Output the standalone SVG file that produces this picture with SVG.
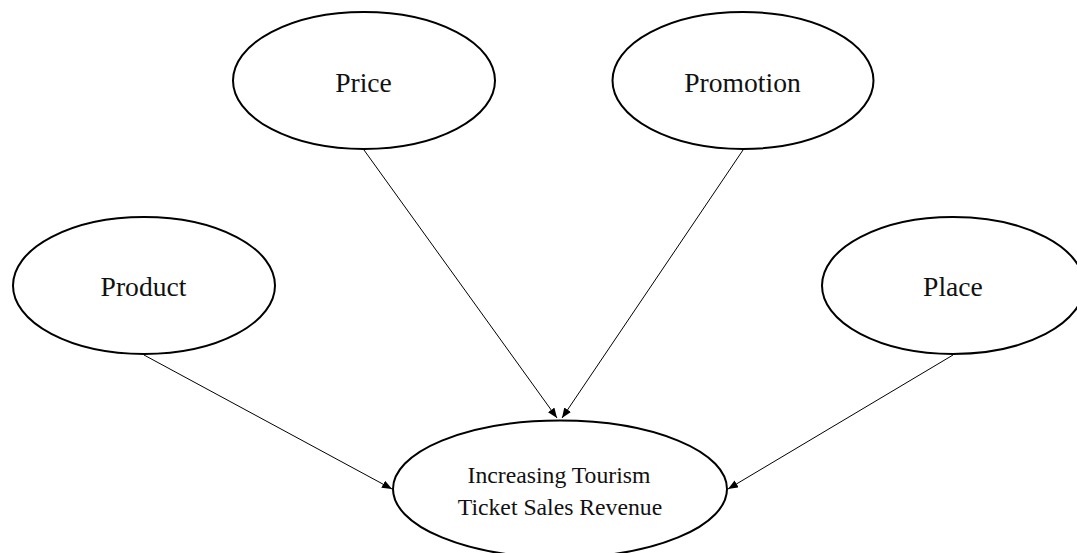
<svg xmlns="http://www.w3.org/2000/svg" width="1077" height="553" viewBox="0 0 1077 553">
  <style>
    .node ellipse { fill: #ffffff; stroke: #000000; stroke-width: 2; }
    .node text { font-family: "Liberation Serif", "Times New Roman", serif; fill: #111111; text-anchor: middle; }
    .lbl { font-size: 27.6px; }
    .lbl2 { font-size: 23.7px; }
    .edges line { stroke: #000000; stroke-width: 1; marker-end: url(#arrow); }
  </style>
  <defs>
    <marker id="arrow" markerUnits="userSpaceOnUse" markerWidth="11" markerHeight="9" refX="10" refY="4" orient="auto">
      <path d="M0,0 L10,4 L0,8 Z" fill="#000000"/>
    </marker>
  </defs>
  <rect x="0" y="0" width="1077" height="553" fill="#ffffff"/>
  <g id="edges" class="edges">
    <line x1="364" y1="150" x2="557" y2="418"/>
    <line x1="743" y1="150" x2="562" y2="418"/>
    <line x1="144" y1="355" x2="392" y2="489"/>
    <line x1="953" y1="355" x2="728" y2="489"/>
  </g>
  <g id="node-price" class="node">
    <ellipse cx="364" cy="80.5" rx="131" ry="68.5"/>
    <text class="lbl" x="363.5" y="92">Price</text>
  </g>
  <g id="node-promotion" class="node">
    <ellipse cx="743" cy="80.5" rx="130.5" ry="68.5"/>
    <text class="lbl" x="742.5" y="92">Promotion</text>
  </g>
  <g id="node-product" class="node">
    <ellipse cx="144" cy="285.5" rx="131" ry="68.5"/>
    <text class="lbl" x="143.5" y="296">Product</text>
  </g>
  <g id="node-place" class="node">
    <ellipse cx="953" cy="285.5" rx="131" ry="68.5"/>
    <text class="lbl" x="953" y="295.5">Place</text>
  </g>
  <g id="node-revenue" class="node">
    <ellipse cx="560" cy="489" rx="167" ry="68.5"/>
    <text class="lbl2" x="559" y="483">Increasing Tourism</text>
    <text class="lbl2" x="560" y="515">Ticket Sales Revenue</text>
  </g>
</svg>
